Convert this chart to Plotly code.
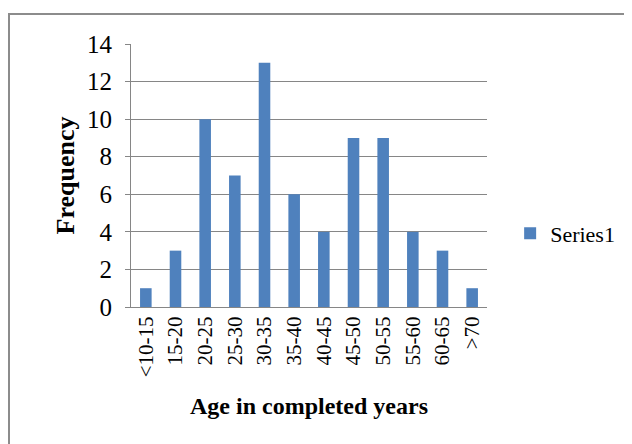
import plotly.graph_objects as go

categories = ["<10-15", "15-20", "20-25", "25-30", "30-35", "35-40", "40-45",
              "45-50", "50-55", "55-60", "60-65", ">70"]
frequency = [1, 3, 10, 7, 13, 6, 4, 9, 9, 4, 3, 1]
y_ticks = [0, 2, 4, 6, 8, 10, 12, 14]

fig = go.Figure()
fig.add_trace(go.Bar(x=categories, y=frequency, name="Series1",
                     marker=dict(color="#4F81BD", line=dict(width=0)),
                     width=0.39, showlegend=True))

font_family = "Liberation Serif"

# plot area in page pixels: x 131..487, y 44..307
PX0, PX1, PY0, PY1 = 131, 487, 44, 307
W, H = PX1 - PX0, PY1 - PY0

# page body has an 8px margin, so the figure is 8px smaller and offset
fig.update_layout(
    width=624, height=436,
    margin=dict(l=PX0 - 8, r=632 - PX1, t=PY0 - 8, b=444 - PY1),
    paper_bgcolor="white", plot_bgcolor="white",
    font=dict(family=font_family, color="black"),
    showlegend=True,
    legend=dict(x=1.065, y=0.28, xanchor="left", yanchor="middle",
                font=dict(size=22, family=font_family, color="black"),
                bgcolor="rgba(0,0,0,0)"),
    xaxis=dict(
        type="category", tickangle=-90,
        tickfont=dict(size=21, family=font_family, color="black"),
        showgrid=False, showline=True, linecolor="#868686", linewidth=1,
        ticks="", range=[-0.5, 11.5],
        title=dict(text="<b>Age in completed years</b>",
                   font=dict(size=24, family=font_family, color="black"), standoff=20),
    ),
    yaxis=dict(
        range=[0, 14], tickvals=y_ticks,
        tickfont=dict(size=25, family=font_family, color="black"),
        ticklabelstandoff=8,
        showgrid=True, gridcolor="#868686", gridwidth=1,
        showline=True, linecolor="#868686", linewidth=1,
        ticks="outside", ticklen=5, tickcolor="#868686",
        zeroline=False,
        title=dict(text="<b>Frequency</b>",
                   font=dict(size=26, family=font_family, color="black"), standoff=4),
    ),
    shapes=[dict(type="rect", xref="paper", yref="paper",
                 x0=(9 - PX0) / W, x1=(650 - PX0) / W,
                 y0=(PY1 - 460) / H, y1=(PY1 - 14) / H,
                 line=dict(color="#8c8c8c", width=2), fillcolor="rgba(0,0,0,0)",
                 layer="below")],
)

fig.write_html("out.html")
